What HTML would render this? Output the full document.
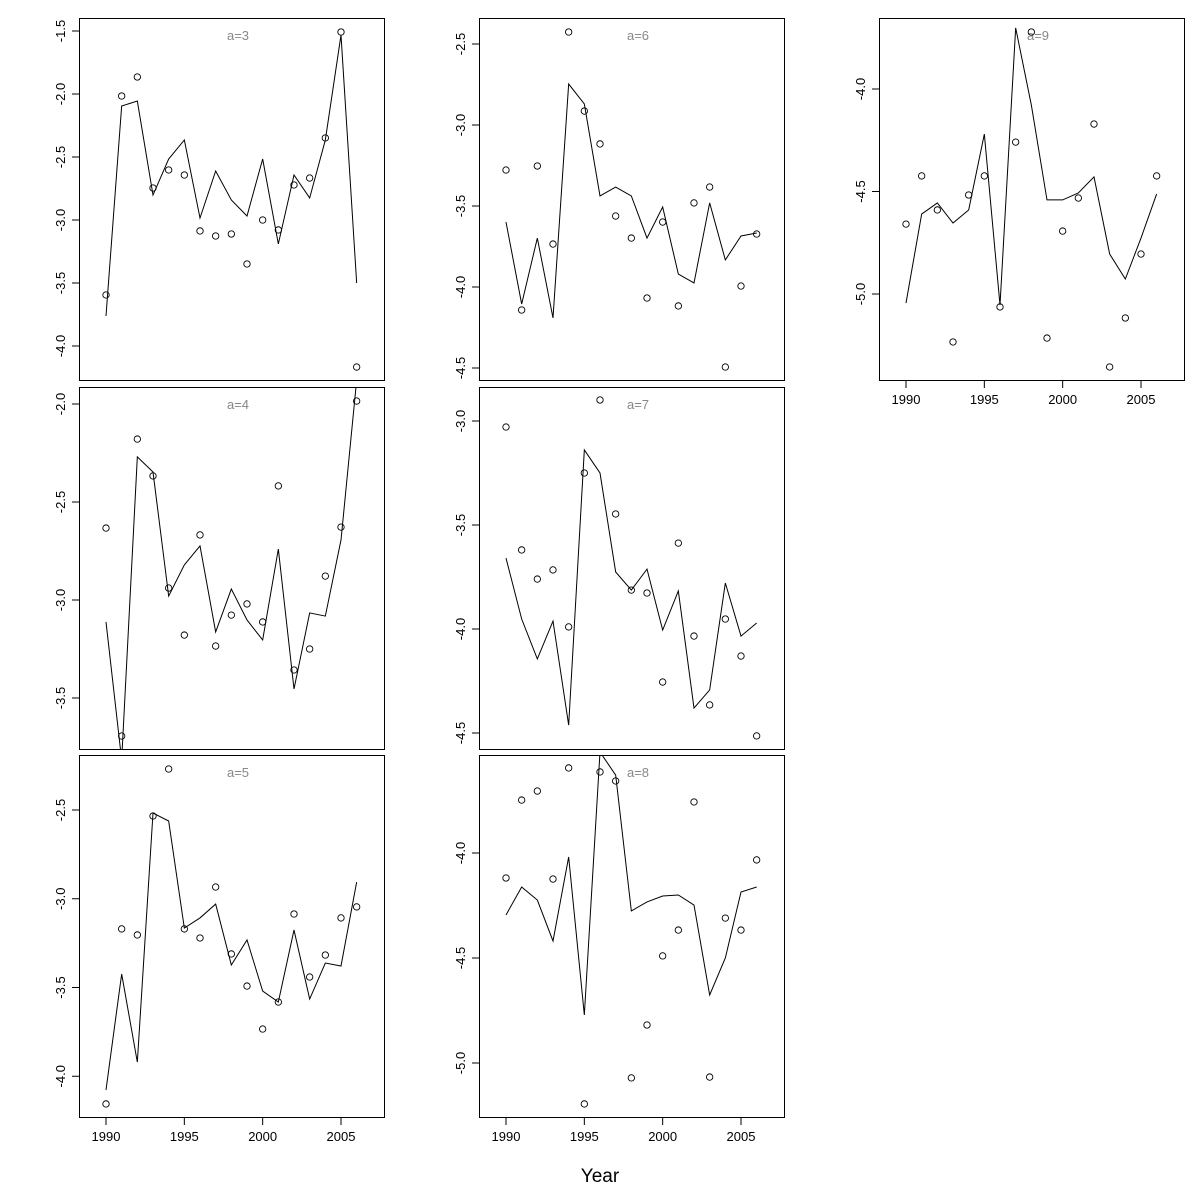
<!DOCTYPE html>
<html><head><meta charset="utf-8"><style>
html,body{margin:0;padding:0;background:#fff;}
svg{display:block;font-family:"Liberation Sans","DejaVu Sans",sans-serif;}
</style></head><body>
<svg id="c" width="1200" height="1200" viewBox="0 0 1200 1200"></svg>
<script>
const years = [1990,1991,1992,1993,1994,1995,1996,1997,1998,1999,2000,2001,2002,2003,2004,2005,2006];
const xTicks = [1990,1995,2000,2005];
const labels = ["a=3","a=4","a=5","a=6","a=7","a=8","a=9"];
const obs_a3 = [-3.595,-2.016,-1.865,-2.746,-2.603,-2.643,-3.087,-3.127,-3.111,-3.349,-3.0,-3.079,-2.722,-2.667,-2.349,-1.508,-4.167];
const fit_a3 = [-3.762,-2.095,-2.056,-2.802,-2.516,-2.365,-2.984,-2.611,-2.841,-2.968,-2.516,-3.190,-2.643,-2.825,-2.365,-1.532,-3.5];
const obs_a4 = [-2.633,-3.694,-2.179,-2.367,-2.939,-3.179,-2.668,-3.235,-3.077,-3.020,-3.112,-2.418,-3.357,-3.25,-2.878,-2.628,-1.985];
const fit_a4 = [-3.112,-3.816,-2.270,-2.347,-2.980,-2.821,-2.724,-3.163,-2.944,-3.102,-3.204,-2.740,-3.454,-3.066,-3.082,-2.694,-1.878];
const obs_a5 = [-4.156,-3.170,-3.204,-2.534,-2.269,-3.170,-3.221,-2.934,-3.311,-3.492,-3.734,-3.582,-3.086,-3.441,-3.317,-3.108,-3.046];
const fit_a5 = [-4.077,-3.424,-3.920,-2.517,-2.562,-3.165,-3.108,-3.030,-3.373,-3.232,-3.520,-3.582,-3.176,-3.565,-3.362,-3.379,-2.906];
const obs_a6 = [-3.278,-4.142,-3.253,-3.735,-2.426,-2.914,-3.117,-3.562,-3.698,-4.068,-3.599,-4.117,-3.481,-3.383,-4.494,-3.994,-3.673];
const fit_a6 = [-3.599,-4.105,-3.698,-4.191,-2.747,-2.870,-3.438,-3.383,-3.438,-3.698,-3.506,-3.920,-3.975,-3.481,-3.833,-3.685,-3.667];
const obs_a7 = [-3.029,-3.620,-3.760,-3.716,-3.990,-3.250,-2.899,-3.447,-3.813,-3.827,-4.255,-3.587,-4.034,-4.365,-3.952,-4.130,-4.514];
const fit_a7 = [-3.659,-3.952,-4.144,-3.962,-4.462,-3.139,-3.250,-3.726,-3.813,-3.712,-4.005,-3.817,-4.380,-4.293,-3.779,-4.034,-3.971];
const obs_a8 = [-4.119,-3.748,-3.705,-4.124,-3.595,-5.195,-3.614,-3.657,-5.071,-4.819,-4.490,-4.367,-3.757,-5.067,-4.310,-4.367,-4.033];
const fit_a8 = [-4.295,-4.162,-4.224,-4.419,-4.019,-4.771,-3.519,-3.629,-4.276,-4.233,-4.205,-4.2,-4.248,-4.676,-4.5,-4.186,-4.162];
const obs_a9 = [-4.659,-4.424,-4.590,-5.234,-4.517,-4.424,-5.063,-4.259,-3.722,-5.215,-4.693,-4.532,-4.171,-5.356,-5.117,-4.805,-4.424];
const fit_a9 = [-5.044,-4.610,-4.556,-4.654,-4.590,-4.220,-5.054,-3.702,-4.078,-4.541,-4.541,-4.507,-4.429,-4.805,-4.927,-4.727,-4.512];
const ticks_a3 = [-1.5,-2.0,-2.5,-3.0,-3.5,-4.0];
const ticks_a4 = [-2.0,-2.5,-3.0,-3.5];
const ticks_a5 = [-2.5,-3.0,-3.5,-4.0];
const ticks_a6 = [-2.5,-3.0,-3.5,-4.0,-4.5];
const ticks_a7 = [-3.0,-3.5,-4.0,-4.5];
const ticks_a8 = [-4.0,-4.5,-5.0];
const ticks_a9 = [-4.0,-4.5,-5.0];

const NS="http://www.w3.org/2000/svg";
const svg=document.getElementById('c');
function mk(tag,attrs,parent){const e=document.createElementNS(NS,tag);for(const k in attrs)e.setAttribute(k,attrs[k]);(parent||svg).appendChild(e);return e;}

const cols=[79,479,879], rows=[18,387,755], W=305, H=362;
// panel config: col,row, label, obs, fit, ticks, domain [vTop,vBottom] (value at panel top/bottom), xaxis
const panels=[
 {c:0,r:0,lab:labels[0],obs:obs_a3,fit:fit_a3,ticks:ticks_a3,v0:-1.5,y0:13,ppu:126,xa:false},
 {c:0,r:1,lab:labels[1],obs:obs_a4,fit:fit_a4,ticks:ticks_a4,v0:-2.0,y0:17,ppu:196,xa:false},
 {c:0,r:2,lab:labels[2],obs:obs_a5,fit:fit_a5,ticks:ticks_a5,v0:-2.5,y0:55,ppu:177.5,xa:true},
 {c:1,r:0,lab:labels[3],obs:obs_a6,fit:fit_a6,ticks:ticks_a6,v0:-2.5,y0:26,ppu:162,xa:false},
 {c:1,r:1,lab:labels[4],obs:obs_a7,fit:fit_a7,ticks:ticks_a7,v0:-3.0,y0:34,ppu:208,xa:false},
 {c:1,r:2,lab:labels[5],obs:obs_a8,fit:fit_a8,ticks:ticks_a8,v0:-4.0,y0:98,ppu:210,xa:true},
 {c:2,r:0,lab:labels[6],obs:obs_a9,fit:fit_a9,ticks:ticks_a9,v0:-4.0,y0:71,ppu:205,xa:true},
];

panels.forEach((p,i)=>{
  const L=cols[p.c], T=rows[p.r];
  const xS=yr=>L+27+(yr-1990)*(235/15);
  const yS=v=>T+p.y0+(p.v0-v)*p.ppu;
  const g=mk('g',{});
  
  
  const cid='clip'+i;
  const cp=mk('clipPath',{id:cid},g); mk('rect',{x:L,y:T,width:W,height:H},cp);
  // title
  const t=mk('text',{x:L+159,y:T+22,'text-anchor':'middle','font-size':13,fill:'#888'},g);
  t.textContent=p.lab;
  
  
  // fit line
  const pl=mk('polyline',{points:years.map((y,k)=>xS(y)+','+yS(p.fit[k])).join(' '),fill:'none',stroke:'#000','stroke-width':1,'clip-path':'url(#'+cid+')'},g);
  
  
  // points
  years.forEach((y,k)=>{
    const c=mk('circle',{cx:xS(y),cy:yS(p.obs[k]),r:3.2,fill:'none',stroke:'#000','stroke-width':0.9,'clip-path':'url(#'+cid+')'},g);
    
    
  });
  // frame
  const fr=mk('rect',{x:L+0.5,y:T+0.5,width:W,height:H,fill:'none',stroke:'#000','stroke-width':1},g);
  
  
  // y ticks
  p.ticks.forEach(v=>{
    const y=yS(v);
    mk('line',{x1:L,x2:L-7,y1:y,y2:y,stroke:'#000'},g);
    const tx=mk('text',{x:L-14,y:y,'text-anchor':'middle','font-size':13,transform:'rotate(-90 '+(L-14)+' '+y+')'},g);
    tx.textContent=v.toFixed(1);
    
    
  });
  if(p.xa){
    const B=T+H+1;
    xTicks.forEach(yr=>{
      const x=xS(yr);
      mk('line',{x1:x,x2:x,y1:B,y2:B+7,stroke:'#000'},g);
      const tx=mk('text',{x:x,y:B+23,'text-anchor':'middle','font-size':13},g);
      tx.textContent=yr;
      
      
    });
  }
});
const xt=mk('text',{x:600,y:1182,'text-anchor':'middle','font-size':19});
xt.textContent='Year';


</script>
</body></html>
